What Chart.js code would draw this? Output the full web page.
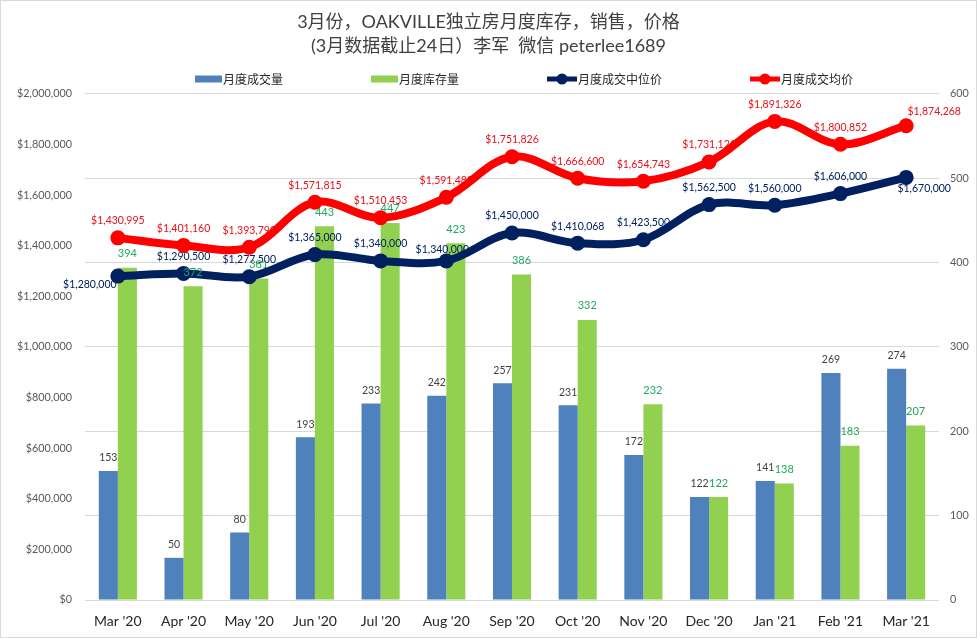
<!DOCTYPE html>
<html>
<head>
<meta charset="utf-8">
<title>OAKVILLE</title>
<script src="https://cdn.jsdelivr.net/npm/chart.js@4"></script>
<style>
html, body { margin: 0; background: #fff; }
#wrap { position: relative; width: 977px; height: 638px; outline: 1px solid #d9d9d9; outline-offset: -1px; }
canvas { display: block; }
</style>
</head>
<body>
<div id="wrap"><canvas id="chart" width="977" height="638"></canvas></div>
<script>
const months = ["Mar '20", "Apr '20", "May '20", "Jun '20", "Jul '20", "Aug '20", "Sep '20", "Oct '20", "Nov '20", "Dec '20", "Jan '21", "Feb '21", "Mar '21"];
const sold = [153, 50, 80, 193, 233, 242, 257, 231, 172, 122, 141, 269, 274];
const inventory = [394, 372, 381, 443, 447, 423, 386, 332, 232, 122, 138, 183, 207];
const medianPrice = [1280000, 1290500, 1277500, 1365000, 1340000, 1340000, 1450000, 1410068, 1423500, 1562500, 1560000, 1606000, 1670000];
const averagePrice = [1430995, 1401160, 1393790, 1571815, 1510453, 1591483, 1751826, 1666600, 1654743, 1731121, 1891326, 1800852, 1874268];
const titleLines = ["3月份，OAKVILLE独立房月度库存，销售，价格", "(3月数据截止24日）李军  微信 peterlee1689"];

const BLUE = "#4f81bd", GREEN = "#92d050", NAVY = "#002060", RED = "#ff0000";
const LATIN_CJK = 'Lato, "Noto Sans CJK SC", sans-serif';

const money = (v) => "$" + v.toLocaleString("en-US");

// dataset index -> label style; moved holds the few labels that sit off their usual spot
const labelStyles = {
	0: { color: "#404040", size: 10.5, dy: -13, text: String },
	1: { color: "#1fa85f", size: 11, dy: -14, text: String },
	2: { color: NAVY, size: 10.5, dy: -17, text: money, moved: { 0: [-28, 9], 5: [-4, -11], 12: [18, 11] } },
	3: { color: "#e8101c", size: 10.5, dy: -17, text: money, moved: { 12: [28, -14] } }
};

function drawLabels(chart, index) {
	const style = labelStyles[index];
	const ctx = chart.ctx;
	ctx.save();
	ctx.font = style.size + "px " + LATIN_CJK;
	ctx.fillStyle = style.color;
	ctx.textAlign = "center";
	ctx.textBaseline = "middle";
	chart.getDatasetMeta(index).data.forEach((el, i) => {
		const move = (style.moved && style.moved[i]) || [0, style.dy];
		ctx.fillText(style.text(chart.data.datasets[index].data[i]), el.x + move[0], el.y + move[1]);
	});
	ctx.restore();
}

const labelPlugin = {
	id: "valueLabels",
	// price labels go under the lines, bar labels over everything
	beforeDatasetDraw(chart, args) {
		if (args.index === 3) { drawLabels(chart, 2); drawLabels(chart, 3); }
	},
	afterDatasetsDraw(chart) {
		drawLabels(chart, 0);
		drawLabels(chart, 1);
	}
};

// the legend row is off centre with wide gaps, so it is drawn here instead of by the legend plugin
const legendRow = {
	id: "legendRow",
	afterDraw(chart) {
		const ctx = chart.ctx;
		const y = 79;
		let x = 195;
		ctx.save();
		ctx.font = '12px "Noto Sans CJK SC", sans-serif';
		ctx.textBaseline = "middle";
		chart.data.datasets.forEach((ds) => {
			const isLine = ds.type === "line";
			const w = isLine ? 30 : 27;
			ctx.fillStyle = ds.backgroundColor;
			if (isLine) {
				ctx.fillRect(x, y - 2.5, w, 5);
				ctx.beginPath();
				ctx.arc(x + w / 2, y, 5.5, 0, Math.PI * 2);
				ctx.fill();
			} else {
				ctx.fillRect(x, y - 3.5, w, 7);
			}
			ctx.fillStyle = "#262626";
			ctx.fillText(ds.label, x + w + 1, y);
			x += w + 1 + ctx.measureText(ds.label).width + 88;
		});
		ctx.restore();
	}
};

new Chart(document.getElementById("chart"), {
	data: {
		labels: months,
		datasets: [
			{ type: "bar", label: "月度成交量", data: sold, backgroundColor: BLUE, yAxisID: "yRight", order: 3, barPercentage: 1, categoryPercentage: 0.58 },
			{ type: "bar", label: "月度库存量", data: inventory, backgroundColor: GREEN, yAxisID: "yRight", order: 4, barPercentage: 1, categoryPercentage: 0.58 },
			{ type: "line", label: "月度成交中位价", data: medianPrice, borderColor: NAVY, backgroundColor: NAVY, borderWidth: 8, pointRadius: 7.5, pointBorderWidth: 0, tension: 0.35, yAxisID: "yLeft", order: 2 },
			{ type: "line", label: "月度成交均价", data: averagePrice, borderColor: RED, backgroundColor: RED, borderWidth: 8, pointRadius: 7.5, pointBorderWidth: 0, tension: 0.35, yAxisID: "yLeft", order: 1 }
		]
	},
	options: {
		responsive: false,
		animation: false,
		layout: { padding: { top: 10 } },
		plugins: {
			tooltip: { enabled: false },
			legend: { display: false },
			title: {
				display: true,
				text: titleLines,
				color: "#404040",
				font: { family: LATIN_CJK, size: 18, weight: "normal", lineHeight: 1.33 },
				padding: { top: 0, bottom: 36 }
			}
		},
		scales: {
			x: {
				grid: { display: false },
				border: { display: false },
				ticks: { color: "#262626", font: { family: LATIN_CJK, size: 14 }, padding: 5, maxRotation: 0 },
				afterFit(scale) { scale.height = 38; }
			},
			yLeft: {
				position: "left",
				min: 0,
				max: 2000000,
				grid: { display: false },
				border: { display: false },
				ticks: { stepSize: 200000, color: "#595959", font: { family: LATIN_CJK, size: 10.8 }, padding: 5, callback: money },
				afterFit(scale) { scale.width = 85; }
			},
			yRight: {
				position: "right",
				min: 0,
				max: 600,
				grid: { color: "#d9d9d9", drawTicks: false },
				border: { display: false },
				ticks: { stepSize: 100, color: "#595959", font: { family: LATIN_CJK, size: 10.8 }, padding: 11 },
				afterFit(scale) { scale.width = 38; }
			}
		}
	},
	plugins: [labelPlugin, legendRow]
});
</script>
</body>
</html>
